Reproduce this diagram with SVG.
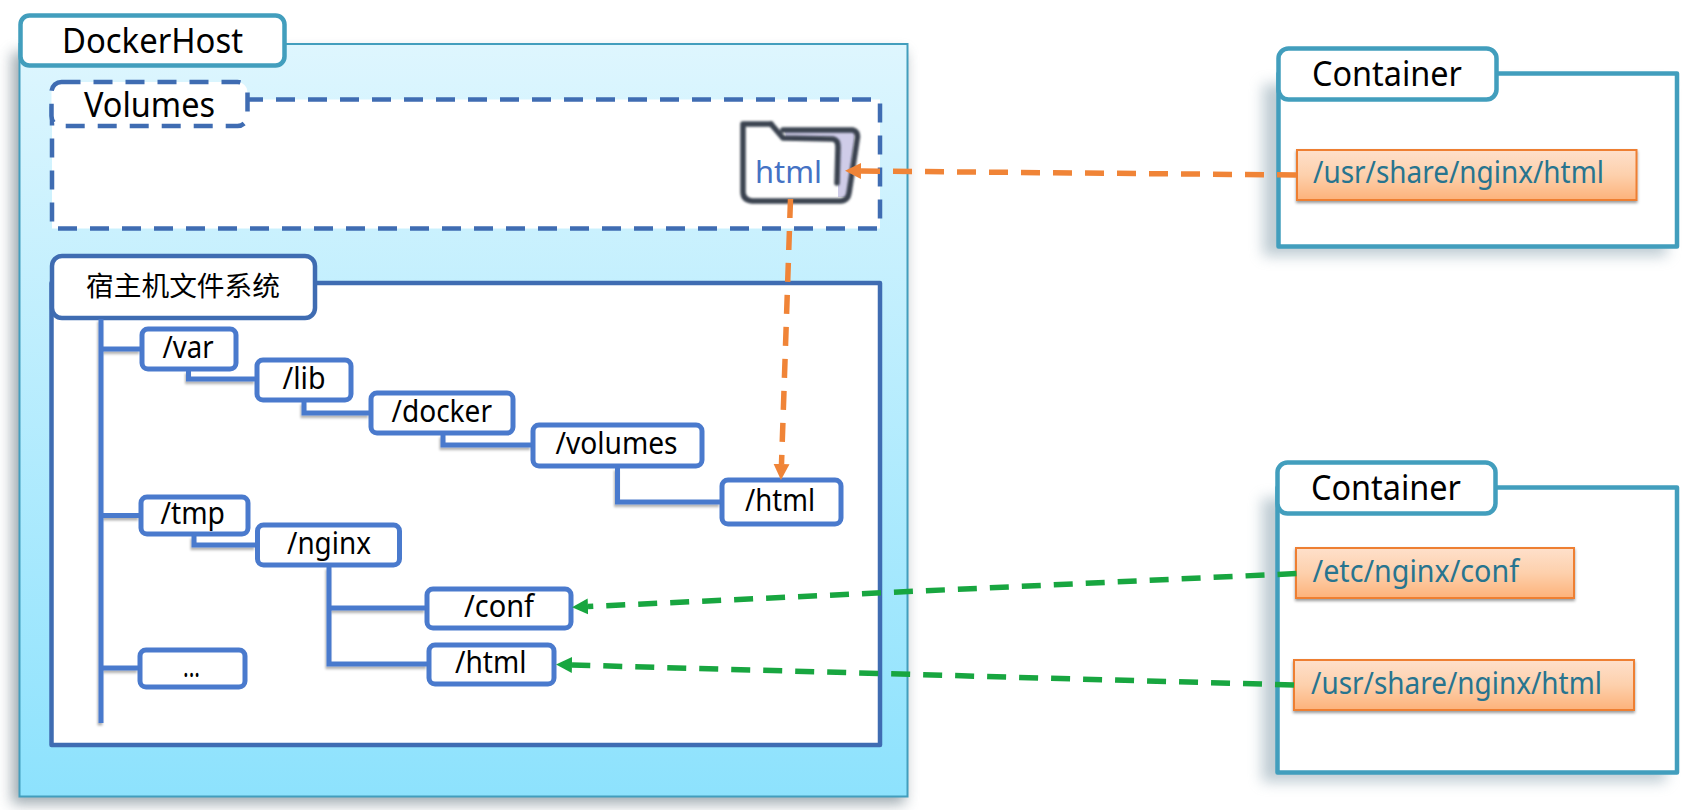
<svg xmlns="http://www.w3.org/2000/svg" width="1688" height="810" viewBox="0 0 1688 810">
<style>
text{font-family:"Noto Sans","Noto Sans CJK SC",sans-serif;fill:#000}
.t{font-size:30px}
.b{font-size:34px}
.p{font-size:30px;fill:#27748f}
.tn{fill:#fff;stroke:#4a7acd;stroke-width:5}
.tab{fill:#fff;stroke:#429ebd;stroke-width:4.5}
.cp{fill:#fff;stroke:#429ebd;stroke-width:4.5;stroke-linejoin:round}
.ob{fill:url(#og);stroke:#ee7f33;stroke-width:2}
.tr{fill:none;stroke:#4a7acd;stroke-width:5}
.or{fill:none;stroke:#f08437;stroke-width:5.5;stroke-dasharray:19 13;marker-end:url(#ao)}
.gr{fill:none;stroke:#18a640;stroke-width:5.5;stroke-dasharray:19 13;marker-end:url(#ag)}
.fo{fill:none;stroke:#3a4350;stroke-width:5.5;stroke-linejoin:round;stroke-linecap:round}
</style>
<defs>
<linearGradient id="hg" x1="0" y1="0" x2="0" y2="1"><stop offset="0" stop-color="#def6fe"/><stop offset="1" stop-color="#8de2fd"/></linearGradient>
<linearGradient id="og" x1="0" y1="0" x2="0" y2="1"><stop offset="0" stop-color="#fee0cb"/><stop offset="0.5" stop-color="#fdd0ac"/><stop offset="1" stop-color="#fdb27a"/></linearGradient>
<filter id="bs" x="-10%" y="-10%" width="120%" height="120%"><feGaussianBlur stdDeviation="7"/></filter>
<filter id="ss" x="-5%" y="-20%" width="110%" height="150%"><feDropShadow dx="0" dy="2" stdDeviation="1.5" flood-color="#000" flood-opacity=".4"/></filter>
<filter id="ls" filterUnits="userSpaceOnUse" x="0" y="0" width="1688" height="810"><feDropShadow dx="-1" dy="2.5" stdDeviation="1.3" flood-color="#000" flood-opacity=".3"/></filter>
<filter id="fb" filterUnits="userSpaceOnUse" x="720" y="100" width="160" height="120"><feGaussianBlur stdDeviation=".8"/></filter>
<marker id="ao" markerUnits="userSpaceOnUse" markerWidth="18" markerHeight="18" refX="0" refY="9" orient="auto"><path d="M0 1L16 9L0 17Z" fill="#f08437"/></marker>
<marker id="ag" markerUnits="userSpaceOnUse" markerWidth="18" markerHeight="18" refX="0" refY="9" orient="auto"><path d="M0 1L16 9L0 17Z" fill="#18a640"/></marker>
</defs>
<rect width="1688" height="810" fill="#fff"/>

<g id="docker-host">
<rect x="12" y="52" width="893" height="752" fill="#6d7f88" opacity=".65" filter="url(#bs)"/>
<rect x="19.5" y="44" width="888" height="752.5" fill="url(#hg)" stroke="#429ebd" stroke-width="2"/>
<rect x="20.5" y="15.5" width="264" height="50" rx="9" class="tab"/>
<text x="62" y="52.5" class="b" textLength="181" lengthAdjust="spacingAndGlyphs">DockerHost</text>
</g>

<g id="volumes">
<rect x="52" y="99.5" width="828" height="129" fill="#fff" stroke="#3f6cb2" stroke-width="4.5" stroke-dasharray="19 13"/>
<rect x="51.5" y="82" width="196" height="44" rx="10" fill="#fff" stroke="#3f6cb2" stroke-width="4.5" stroke-dasharray="19 13"/>
<text x="84" y="116.5" class="b" textLength="131" lengthAdjust="spacingAndGlyphs">Volumes</text>
</g>

<g id="html-folder">
<path d="M782 130H853Q859 132 857 140L849 193Q848 200 841 201H752Q743 200 743 192V124H771L783 138Z" fill="#fff"/>
<path d="M785 131H855L848 197L838 197L838 145Q838 138 832 137L786 137Z" fill="#cfcce8"/>
<g filter="url(#fb)">
<path class="fo" d="M771 124L783 138L833 139Q838 140 838 147L837 183"/>
<path class="fo" d="M783 130H853Q859 132 857 140L849 193Q848 200 841 201H752Q743 200 743 192V124H771"/>
</g>
<text x="755" y="183" font-size="31" style="fill:#4472c4" textLength="67" lengthAdjust="spacingAndGlyphs">html</text>
</g>

<g id="host-fs">
<rect x="51.5" y="283" width="828.5" height="462" fill="#fff" stroke="#3f6cb2" stroke-width="4.5" stroke-linejoin="round"/>
<rect x="52" y="256" width="263" height="62" rx="10" fill="#fff" stroke="#3f6cb2" stroke-width="4.5"/>
<text x="86" y="296" font-size="27" textLength="194" lengthAdjust="spacingAndGlyphs" style="font-family:'Noto Sans CJK SC',sans-serif">宿主机文件系统</text>
</g>

<g id="n-var"><rect x="142" y="329" width="94" height="40" rx="6" class="tn"/><text x="162.5" y="357.5" class="t" textLength="51" lengthAdjust="spacingAndGlyphs">/var</text></g>
<g id="n-lib"><rect x="257" y="360" width="94" height="40" rx="6" class="tn"/><text x="282.5" y="389" class="t" textLength="43" lengthAdjust="spacingAndGlyphs">/lib</text></g>
<g id="n-docker"><rect x="371" y="393" width="142" height="40" rx="6" class="tn"/><text x="391.5" y="421.5" class="t" textLength="100.5" lengthAdjust="spacingAndGlyphs">/docker</text></g>
<g id="n-volumes"><rect x="533" y="425" width="169" height="41" rx="6" class="tn"/><text x="555.5" y="454" class="t" textLength="122" lengthAdjust="spacingAndGlyphs">/volumes</text></g>
<g id="n-html-a"><rect x="722" y="480" width="119" height="44" rx="6" class="tn"/><text x="745" y="510.5" class="t" textLength="70" lengthAdjust="spacingAndGlyphs">/html</text></g>
<g id="n-tmp"><rect x="141" y="497" width="107" height="37" rx="6" class="tn"/><text x="160.5" y="524" class="t" textLength="64.5" lengthAdjust="spacingAndGlyphs">/tmp</text></g>
<g id="n-nginx"><rect x="257.5" y="525" width="142" height="40" rx="6" class="tn"/><text x="287" y="554" class="t" textLength="84" lengthAdjust="spacingAndGlyphs">/nginx</text></g>
<g id="n-conf"><rect x="427" y="589" width="144" height="39" rx="6" class="tn"/><text x="464" y="616.5" class="t" textLength="70" lengthAdjust="spacingAndGlyphs">/conf</text></g>
<g id="n-html-b"><rect x="429" y="645" width="125" height="39" rx="6" class="tn"/><text x="455" y="672.5" class="t" textLength="71.5" lengthAdjust="spacingAndGlyphs">/html</text></g>
<g id="n-more"><rect x="140" y="650" width="105" height="37" rx="6" class="tn"/><text x="183" y="676.5" class="t" textLength="17" lengthAdjust="spacingAndGlyphs">...</text></g>

<g id="container-a">
<rect x="1263" y="84" width="404" height="172" fill="#7f9aa8" opacity=".5" filter="url(#bs)"/>
<rect x="1278.5" y="73.5" width="398.5" height="173" class="cp"/>
<rect x="1278.5" y="48.5" width="218" height="51" rx="10" class="tab"/>
<text x="1312" y="85.5" font-size="34" textLength="150" lengthAdjust="spacingAndGlyphs">Container</text>
<g filter="url(#ss)"><rect x="1297" y="150" width="339.5" height="50" class="ob"/></g>
<text x="1313" y="183" class="p" textLength="291" lengthAdjust="spacingAndGlyphs">/usr/share/nginx/html</text>
</g>

<g id="container-b">
<rect x="1262" y="498" width="404" height="284" fill="#7f9aa8" opacity=".5" filter="url(#bs)"/>
<rect x="1277.5" y="487.5" width="399.5" height="285" class="cp"/>
<rect x="1277.5" y="462.5" width="218" height="51" rx="10" class="tab"/>
<text x="1311" y="499.5" font-size="34" textLength="150" lengthAdjust="spacingAndGlyphs">Container</text>
<g filter="url(#ss)"><rect x="1296" y="548" width="278" height="50" class="ob"/></g>
<text x="1312.5" y="581.5" class="p" textLength="206.5" lengthAdjust="spacingAndGlyphs">/etc/nginx/conf</text>
<g filter="url(#ss)"><rect x="1294" y="660" width="340" height="50" class="ob"/></g>
<text x="1311" y="694" class="p" textLength="291" lengthAdjust="spacingAndGlyphs">/usr/share/nginx/html</text>
</g>

<g id="connectors">
<g filter="url(#ls)">
<path class="tr" d="M101 319V723"/>
<path class="tr" d="M101 349H140"/>
<path class="tr" d="M101 515.5H139"/>
<path class="tr" d="M101 668H138"/>
<path class="tr" d="M188.5 371V379H255"/>
<path class="tr" d="M304 402V413H369"/>
<path class="tr" d="M443 435V445H531"/>
<path class="tr" d="M617.5 468V502H720"/>
<path class="tr" d="M194 536V545H255"/>
<path class="tr" d="M329 567V664H427"/>
<path class="tr" d="M329 608H425"/>
</g>
<path class="or" d="M1296 175L861 171"/>
<path class="or" d="M790.5 199L781.5 464"/>
<path class="gr" d="M1296.5 573.5L588 606.5"/>
<path class="gr" d="M1294 685L572 665"/>
</g>
</svg>
